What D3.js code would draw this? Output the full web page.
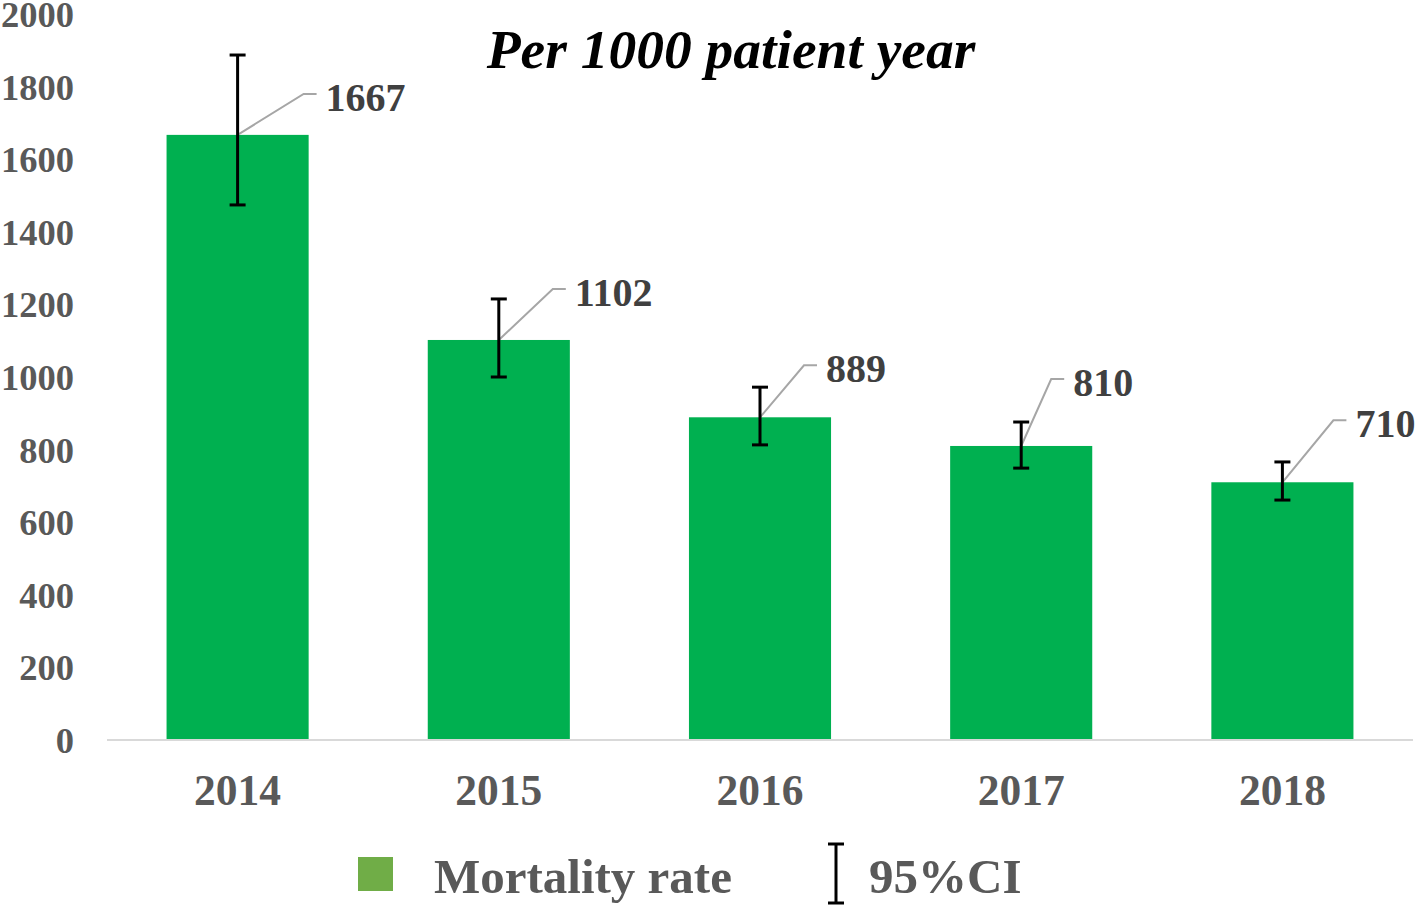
<!DOCTYPE html>
<html><head><meta charset="utf-8">
<script src="https://cdn.jsdelivr.net/npm/d3@7"></script>
<style>body{margin:0;background:#fff}svg{display:block}</style>
</head><body>
<svg id="c" width="1418" height="907"></svg>
<script>
const years = ["2014","2015","2016","2017","2018"];
const rates = [1667, 1102, 889, 810, 710];
const ciLow = [1474, 1000, 813, 749, 661];
const ciHigh = [1887, 1215, 972, 876, 766];
const yTicks = [0,200,400,600,800,1000,1200,1400,1600,1800,2000];
// leader line offsets (layout only)
const leaderDx = [66, 54, 44, 30, 51];
const leaderDy = [-41, -51, -52, -67, -62];

const svg = d3.select("#c");
const font = "'Liberation Serif','Times New Roman',serif";
const x = d3.scaleBand().domain(years).range([107, 1413]).paddingInner(0.456).paddingOuter(0.228);
const y = d3.scaleLinear().domain([0, 2000]).range([740, 14]);

// y tick labels
svg.append("g").selectAll("text").data(yTicks).join("text")
  .attr("x", 74).attr("y", d => y(d) + 1).attr("dy", "0.33em")
  .attr("text-anchor", "end").attr("font-family", font).attr("font-weight", "bold")
  .attr("font-size", 36.5).attr("fill", "#595959").text(d => d);

// bars
svg.append("g").selectAll("rect").data(years).join("rect")
  .attr("x", d => x(d)).attr("width", x.bandwidth())
  .attr("y", (d,i) => y(rates[i])).attr("height", (d,i) => y(0) - y(rates[i]))
  .attr("fill", "#00B050");

// axis line
svg.append("line").attr("x1", 107).attr("x2", 1413).attr("y1", y(0)).attr("y2", y(0))
  .attr("stroke", "#D9D9D9").attr("stroke-width", 2);

// x labels
svg.append("g").selectAll("text").data(years).join("text")
  .attr("x", d => x(d) + x.bandwidth()/2).attr("y", 805)
  .attr("text-anchor", "middle").attr("font-family", font).attr("font-weight", "bold")
  .attr("font-size", 43.5).attr("fill", "#595959").text(d => d);

// leader lines + labels
const lg = svg.append("g");
years.forEach((yr, i) => {
  const cx = x(yr) + x.bandwidth()/2, cy = y(rates[i]);
  const ex = cx + leaderDx[i], ey = cy + leaderDy[i];
  lg.append("path").attr("d", `M${cx},${cy}L${ex},${ey}L${ex+13},${ey}`)
    .attr("fill", "none").attr("stroke", "#A6A6A6").attr("stroke-width", 2);
  lg.append("text").attr("x", ex + 22).attr("y", ey + 3).attr("dy", "0.35em")
    .attr("font-family", font).attr("font-weight", "bold").attr("font-size", 40)
    .attr("fill", "#404040").text(rates[i]);
});

// error bars
const eg = svg.append("g").attr("stroke", "#000").attr("stroke-width", 3);
years.forEach((yr, i) => {
  const cx = x(yr) + x.bandwidth()/2;
  eg.append("line").attr("x1", cx).attr("x2", cx).attr("y1", y(ciLow[i])).attr("y2", y(ciHigh[i]));
  eg.append("line").attr("x1", cx-8).attr("x2", cx+8).attr("y1", y(ciLow[i])).attr("y2", y(ciLow[i]));
  eg.append("line").attr("x1", cx-8).attr("x2", cx+8).attr("y1", y(ciHigh[i])).attr("y2", y(ciHigh[i]));
});

// title
svg.append("text").attr("x", 731).attr("y", 68).attr("text-anchor", "middle")
  .attr("font-family", font).attr("font-weight", "bold").attr("font-style", "italic")
  .attr("font-size", 55.5).attr("fill", "#000").text("Per 1000 patient year");

// legend
svg.append("rect").attr("x", 358).attr("y", 857).attr("width", 35).attr("height", 34).attr("fill", "#70AD47");
svg.append("text").attr("x", 434).attr("y", 893).attr("font-family", font).attr("font-weight", "bold")
  .attr("font-size", 49).attr("fill", "#595959").text("Mortality rate");
const lx = 836;
svg.append("g").attr("stroke", "#000").attr("stroke-width", 3).call(g => {
  g.append("line").attr("x1", lx).attr("x2", lx).attr("y1", 844).attr("y2", 903);
  g.append("line").attr("x1", lx-8).attr("x2", lx+8).attr("y1", 844).attr("y2", 844);
  g.append("line").attr("x1", lx-8).attr("x2", lx+8).attr("y1", 903).attr("y2", 903);
});
svg.append("text").attr("x", 869).attr("y", 893).attr("font-family", font).attr("font-weight", "bold")
  .attr("font-size", 49).attr("fill", "#595959").text("95%CI");
</script>
</body></html>
